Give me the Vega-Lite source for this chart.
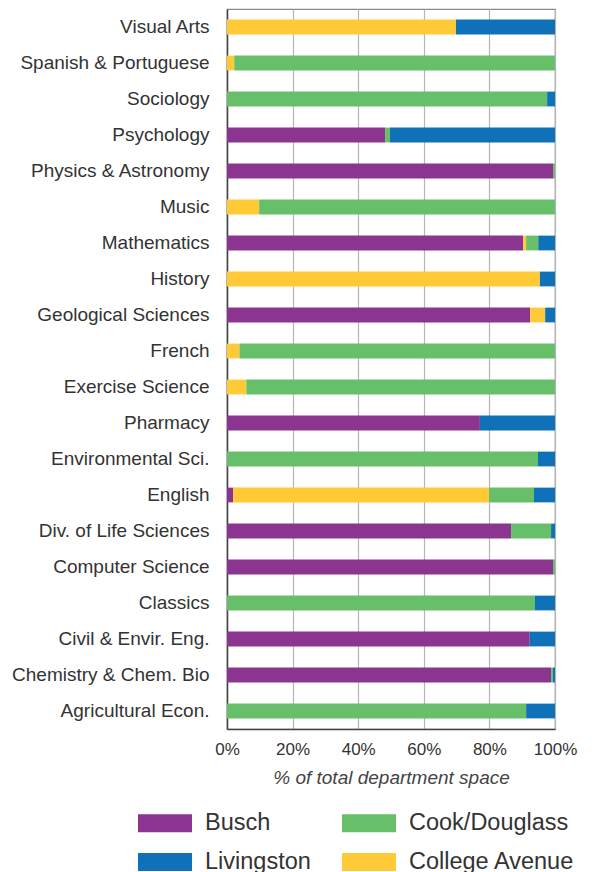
{
  "$schema": "https://vega.github.io/schema/vega-lite/v6.json",
  "autosize": "none",
  "padding": {"left": 227, "top": 9, "right": 44, "bottom": 143},
  "width": 328,
  "height": 720,
  "background": "white",
  "config": {
    "font": "Liberation Sans",
    "view": {"stroke": "#8a8a8a", "strokeWidth": 1.2},
    "axis": {"labelColor": "#333", "titleColor": "#444", "ticks": false, "tickSize": 0}
  },
  "data": {
    "values": [
      {"dept": "Visual Arts", "campus": "College Avenue", "pct": 69.8},
      {"dept": "Visual Arts", "campus": "Livingston", "pct": 30.2},
      {"dept": "Spanish & Portuguese", "campus": "College Avenue", "pct": 2.2},
      {"dept": "Spanish & Portuguese", "campus": "Cook/Douglass", "pct": 97.8},
      {"dept": "Sociology", "campus": "Cook/Douglass", "pct": 97.6},
      {"dept": "Sociology", "campus": "Livingston", "pct": 2.4},
      {"dept": "Psychology", "campus": "Busch", "pct": 48.2},
      {"dept": "Psychology", "campus": "Cook/Douglass", "pct": 1.5},
      {"dept": "Psychology", "campus": "Livingston", "pct": 50.3},
      {"dept": "Physics & Astronomy", "campus": "Busch", "pct": 99.4},
      {"dept": "Physics & Astronomy", "campus": "Cook/Douglass", "pct": 0.6},
      {"dept": "Music", "campus": "College Avenue", "pct": 9.8},
      {"dept": "Music", "campus": "Cook/Douglass", "pct": 90.2},
      {"dept": "Mathematics", "campus": "Busch", "pct": 90.3},
      {"dept": "Mathematics", "campus": "College Avenue", "pct": 0.9},
      {"dept": "Mathematics", "campus": "Cook/Douglass", "pct": 3.7},
      {"dept": "Mathematics", "campus": "Livingston", "pct": 5.1},
      {"dept": "History", "campus": "College Avenue", "pct": 95.4},
      {"dept": "History", "campus": "Livingston", "pct": 4.6},
      {"dept": "Geological Sciences", "campus": "Busch", "pct": 92.4},
      {"dept": "Geological Sciences", "campus": "College Avenue", "pct": 4.6},
      {"dept": "Geological Sciences", "campus": "Livingston", "pct": 3.0},
      {"dept": "French", "campus": "College Avenue", "pct": 3.8},
      {"dept": "French", "campus": "Cook/Douglass", "pct": 96.2},
      {"dept": "Exercise Science", "campus": "College Avenue", "pct": 5.9},
      {"dept": "Exercise Science", "campus": "Cook/Douglass", "pct": 94.1},
      {"dept": "Pharmacy", "campus": "Busch", "pct": 77.1},
      {"dept": "Pharmacy", "campus": "Livingston", "pct": 22.9},
      {"dept": "Environmental Sci.", "campus": "Cook/Douglass", "pct": 94.8},
      {"dept": "Environmental Sci.", "campus": "Livingston", "pct": 5.2},
      {"dept": "English", "campus": "Busch", "pct": 1.9},
      {"dept": "English", "campus": "College Avenue", "pct": 78.0},
      {"dept": "English", "campus": "Cook/Douglass", "pct": 13.7},
      {"dept": "English", "campus": "Livingston", "pct": 6.4},
      {"dept": "Div. of Life Sciences", "campus": "Busch", "pct": 86.6},
      {"dept": "Div. of Life Sciences", "campus": "Cook/Douglass", "pct": 12.2},
      {"dept": "Div. of Life Sciences", "campus": "Livingston", "pct": 1.2},
      {"dept": "Computer Science", "campus": "Busch", "pct": 99.4},
      {"dept": "Computer Science", "campus": "Cook/Douglass", "pct": 0.6},
      {"dept": "Classics", "campus": "Cook/Douglass", "pct": 93.9},
      {"dept": "Classics", "campus": "Livingston", "pct": 6.1},
      {"dept": "Civil & Envir. Eng.", "campus": "Busch", "pct": 92.3},
      {"dept": "Civil & Envir. Eng.", "campus": "Livingston", "pct": 7.7},
      {"dept": "Chemistry & Chem. Bio", "campus": "Busch", "pct": 98.8},
      {"dept": "Chemistry & Chem. Bio", "campus": "Cook/Douglass", "pct": 0.6},
      {"dept": "Chemistry & Chem. Bio", "campus": "Livingston", "pct": 0.6},
      {"dept": "Agricultural Econ.", "campus": "Cook/Douglass", "pct": 91.2},
      {"dept": "Agricultural Econ.", "campus": "Livingston", "pct": 8.8}
    ]
  },
  "mark": {"type": "bar"},
  "encoding": {
    "y": {
      "field": "dept",
      "type": "nominal",
      "sort": ["Visual Arts", "Spanish & Portuguese", "Sociology", "Psychology", "Physics & Astronomy", "Music", "Mathematics", "History", "Geological Sciences", "French", "Exercise Science", "Pharmacy", "Environmental Sci.", "English", "Div. of Life Sciences", "Computer Science", "Classics", "Civil & Envir. Eng.", "Chemistry & Chem. Bio", "Agricultural Econ."],
      "scale": {"paddingInner": 0.59, "paddingOuter": 0.295},
      "axis": {"title": null, "labelFontSize": 19, "labelPadding": 18, "labelLimit": 300, "domainColor": "#444", "domainWidth": 1.5}
    },
    "x": {
      "field": "pct",
      "type": "quantitative",
      "stack": "normalize",
      "scale": {"domain": [0, 1], "nice": false},
      "axis": {
        "title": "% of total department space",
        "titleFontSize": 19,
        "titleFontStyle": "italic",
        "titleFontWeight": "normal",
        "titlePadding": 11,
        "format": ".0%",
        "values": [0, 0.2, 0.4, 0.6, 0.8, 1],
        "labelFontSize": 17,
        "labelPadding": 12,
        "labelDx": 4,
        "labelFlush": false,
        "grid": true,
        "gridColor": "#b5b5b5",
        "gridWidth": 1.2,
        "domainColor": "#444",
        "domainWidth": 1.5
      }
    },
    "color": {
      "field": "campus",
      "type": "nominal",
      "scale": {
        "domain": ["Busch", "Cook/Douglass", "Livingston", "College Avenue"],
        "range": ["#8B3590", "#67BF6A", "#0F71B8", "#FFCA36"]
      },
      "legend": {
        "title": null,
        "orient": "none",
        "legendX": -89,
        "legendY": 787,
        "columns": 2,
        "direction": "horizontal",
        "columnPadding": 31,
        "rowPadding": -19,
        "symbolType": "M-1,-0.333H1V0.333H-1Z",
        "symbolSize": 2916,
        "symbolStrokeWidth": 0,
        "symbolOpacity": 1,
        "labelFontSize": 23.5,
        "labelColor": "#333",
        "labelOffset": 13,
        "labelLimit": 300,
        "padding": 0
      }
    },
    "order": {"field": "campus", "sort": "ascending"}
  }
}
